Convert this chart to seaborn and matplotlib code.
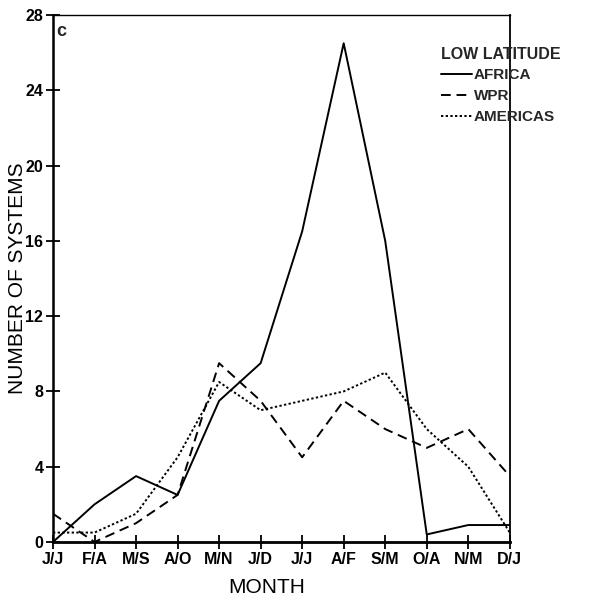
import numpy as np
import pandas as pd
import matplotlib
matplotlib.use("Agg")
import matplotlib.pyplot as plt
import seaborn as sns
from matplotlib.lines import Line2D

months = ["J/J", "F/A", "M/S", "A/O", "M/N", "J/D", "J/J", "A/F", "S/M", "O/A", "N/M", "D/J"]
africa = [0, 2, 3.5, 2.5, 7.5, 9.5, 16.5, 26.5, 16, 0.4, 0.9, 0.9]
wpr = [1.5, 0, 1, 2.5, 9.5, 7.5, 4.5, 7.5, 6, 5, 6, 3.5]
americas = [0.5, 0.5, 1.5, 4.5, 8.5, 7, 7.5, 8, 9, 6, 4, 0.5]
regions = ["AFRICA", "WPR", "AMERICAS"]

sns.set_theme(style="white")
plt.rcParams['font.family'] = ['Liberation Sans', 'DejaVu Sans']

idx = np.arange(len(months))
df = pd.concat([
    pd.DataFrame({"x": idx, "value": africa, "region": "AFRICA"}),
    pd.DataFrame({"x": idx, "value": wpr, "region": "WPR"}),
    pd.DataFrame({"x": idx, "value": americas, "region": "AMERICAS"}),
])

fig = plt.figure(figsize=(6.12, 6.0), dpi=100)
ax = fig.add_axes([0.0866, 0.0967, 0.7464, 0.8783])

sns.lineplot(data=df, x="x", y="value", style="region", style_order=regions,
             dashes={"AFRICA": "", "WPR": (5, 3), "AMERICAS": (1.2, 1.2)},
             color="black", linewidth=1.4, ax=ax, legend=False)

tickfont = dict(size=11.5, weight='bold')
ax.set_xlim(0, len(months) - 1)
ax.set_ylim(0, 28)
ax.set_xticks(idx)
ax.set_xticklabels(months, fontdict=tickfont)
ax.set_yticks(np.arange(0, 29, 4))
ax.set_yticklabels([str(v) for v in range(0, 29, 4)], fontdict=tickfont)
ax.tick_params(axis='both', direction='inout', length=10, width=1.3, color='black',
               bottom=True, left=True, pad=2, labelcolor='black')
for s in ax.spines.values():
    s.set_color('black')
    s.set_linewidth(1.3)
ax.spines['bottom'].set_linewidth(2)
ax.spines['left'].set_linewidth(1.8)
ax.spines['top'].set_linewidth(1.0)

ax.set_xlabel("MONTH", fontsize=15, color='black')
ax.set_ylabel("NUMBER OF SYSTEMS", fontsize=15, color='black')
ax.xaxis.set_label_coords(0.468, -0.068)
ax.yaxis.set_label_coords(-0.058, 0.50)

ax.text(0.008, 0.985, "c", fontsize=13, fontweight='bold', transform=ax.transAxes,
        va='top', ha='left')

handles = [Line2D([], [], color='black', lw=1.4, ls='-'),
           Line2D([], [], color='black', lw=1.4, ls=(0, (5, 3))),
           Line2D([], [], color='black', lw=1.4, ls=(0, (1.2, 1.2)))]
leg = ax.legend(handles, regions, title="LOW LATITUDE", loc='upper left',
                bbox_to_anchor=(0.85, 0.94), frameon=False, handlelength=2.0,
                handletextpad=0.15, labelspacing=0.45, borderaxespad=0, borderpad=0,
                prop={'size': 11, 'weight': 'bold'})
leg.get_title().set_fontsize(11.5)
leg.get_title().set_fontweight('bold')
leg._legend_box.align = "left"

fig.savefig("out.png", dpi=100)
